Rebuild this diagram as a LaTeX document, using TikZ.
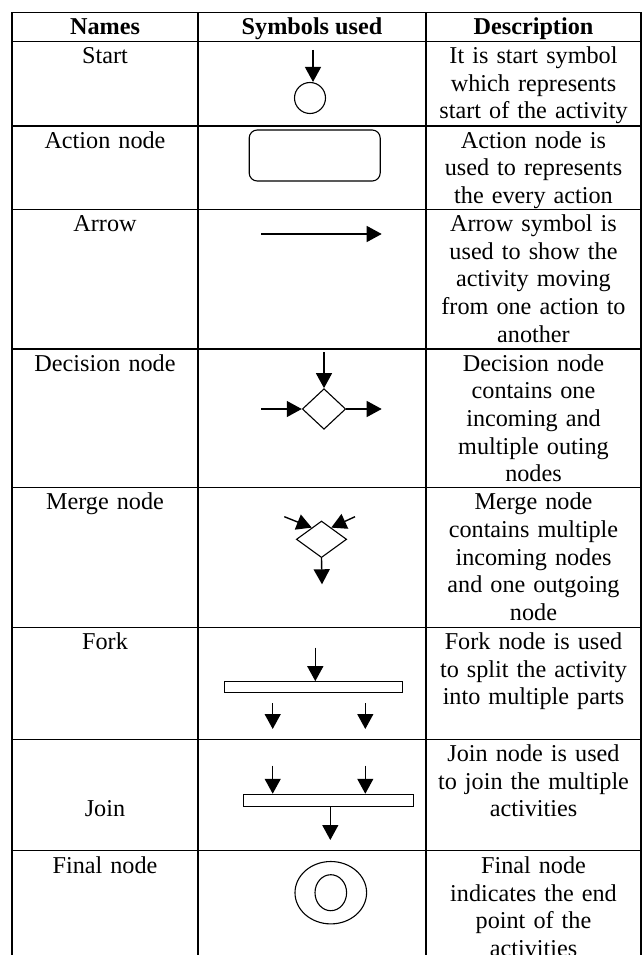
\documentclass[tikz,border=0pt]{standalone}
\usepackage{fontspec}
\setmainfont{Liberation Serif}
\usetikzlibrary{arrows.meta,shapes.geometric,calc}

\begin{document}
\begin{tikzpicture}[x=1pt,y=-1pt,
  gridline/.style={line width=1.3pt},
  flow/.style={line width=1.4pt,-{Triangle[length=15pt,width=16pt]}},
  outline/.style={draw,line width=1.1pt,inner sep=0pt},
  cell/.style={inner sep=0pt,anchor=base,align=center,
    font=\fontsize{24.2}{27.7}\selectfont},
  namecell/.style={cell,text width=180pt},
  desccell/.style={cell,text width=210pt},
  headcell/.style={cell,font=\fontsize{24.2}{27.7}\selectfont\bfseries}
]
\useasboundingbox (0,0) rectangle (643,955);

% ---- table rules ----
\draw[gridline] (12,955) -- (12,12.7) -- (641,12.7) -- (641,955);
\foreach \xx in {198,426} \draw[gridline] (\xx,12.7) -- (\xx,955);
\foreach \yy in {41.7,126,209.3,349,487.7,627.5,739.5,850.7}
  \draw[gridline] (12,\yy) -- (641,\yy);

% ---- header ----
\node[headcell] (hName) at (105,35) {Names};
\node[headcell] (hSym)  at (312,35) {Symbols used};
\node[headcell] (hDesc) at (533.5,35) {Description};

% ---- names column ----
\node[namecell] (nStart)  at (105,63.5)  {Start};
\node[namecell] (nAction) at (105,148)   {Action node};
\node[namecell] (nArrow)  at (105,231.3) {Arrow};
\node[namecell] (nDec)    at (105,371)   {Decision node};
\node[namecell] (nMerge)  at (105,509.7) {Merge node};
\node[namecell] (nFork)   at (105,649.5) {Fork};
\node[namecell] (nJoin)   at (105,816.8) {Join};
\node[namecell] (nFinal)  at (105,873.3) {Final node};

% ---- description column ----
\node[desccell] (dStart)  at (533.5,63.5)  {It is start symbol\\which represents\\start of the activity};
\node[desccell] (dAction) at (533.5,148)   {Action node is\\used to represents\\the every action};
\node[desccell] (dArrow)  at (533.5,231.3) {Arrow symbol is\\used to show the\\activity moving\\from one action to\\another};
\node[desccell] (dDec)    at (533.5,371)   {Decision node\\contains one\\incoming and\\multiple outing\\nodes};
\node[desccell] (dMerge)  at (533.5,509.7) {Merge node\\contains multiple\\incoming nodes\\and one outgoing\\node};
\node[desccell] (dFork)   at (533.5,649.5) {Fork node is used\\to split the activity\\into multiple parts};
\node[desccell] (dJoin)   at (533.5,761.5) {Join node is used\\to join the multiple\\activities};
\node[desccell] (dFinal)  at (533.5,873.3) {Final node\\indicates the end\\point of the\\activities};

% ---- start symbol ----
\node[outline,circle,minimum size=31pt] (startC) at (310,98) {};
\coordinate (startIn) at (313,50);
\draw[flow] (startIn) -- (startIn |- startC.north);

% ---- action node symbol ----
\node[outline,rounded corners=8pt,minimum width=131pt,minimum height=51pt] (actBox) at (314.7,155.5) {};

% ---- arrow symbol ----
\coordinate (arrFrom) at (261,234);
\coordinate (arrTo) at (381.7,234);
\draw[flow] (arrFrom) -- (arrTo);

% ---- decision node symbol ----
\node[outline,diamond,minimum width=43.4pt,minimum height=40.6pt] (decD) at (324,409) {};
\coordinate (decTop) at (324,352.3);
\coordinate (decLeft) at (261,409);
\coordinate (decRight) at (381.7,409);
\draw[flow] (decTop) -- (decD.north);
\draw[flow] (decLeft) -- (decD.west);
\draw[flow] (decD.east) -- (decRight);

% ---- merge node symbol ----
\node[outline,diamond,minimum width=50.3pt,minimum height=36.6pt] (mrgD) at (321.5,539.3) {};
\coordinate (mrgInL) at (284.3,516.7);
\coordinate (mrgInR) at (355,516.7);
\coordinate (mrgOut) at (322,584.3);
\draw[flow] (mrgInL) -- ($(mrgD.north)!0.38!(mrgD.west)$);
\draw[flow] (mrgInR) -- ($(mrgD.north)!0.38!(mrgD.east)$);
\draw[flow] (mrgD.south) -- (mrgOut);

% ---- fork symbol ----
\node[outline,rectangle,minimum width=178pt,minimum height=11pt] (forkBar) at (313.3,687.2) {};
\coordinate (forkIn) at (315.3,647.7);
\draw[flow] (forkIn) -- (forkIn |- forkBar.north);
\coordinate (forkOutLa) at (272.7,703.3);
\coordinate (forkOutLb) at (272.7,729);
\coordinate (forkOutRa) at (365.3,703.3);
\coordinate (forkOutRb) at (365.3,729);
\draw[flow] (forkOutLa) -- (forkOutLb);
\draw[flow] (forkOutRa) -- (forkOutRb);

% ---- join symbol ----
\node[outline,rectangle,minimum width=169.6pt,minimum height=12.4pt] (joinBar) at (328.5,800.5) {};
\coordinate (joinInL) at (272.7,765.7);
\coordinate (joinInR) at (365.3,765.7);
\coordinate (joinOut) at (330.3,840);
\draw[flow] (joinInL) -- (joinInL |- joinBar.north);
\draw[flow] (joinInR) -- (joinInR |- joinBar.north);
\draw[flow] (joinOut |- joinBar.south) -- (joinOut);

% ---- final node symbol ----
\node[outline,ellipse,minimum width=71.6pt,minimum height=62.4pt] (finOuter) at (330.8,892.7) {};
\node[outline,ellipse,minimum width=31.6pt,minimum height=36pt] (finInner) at (finOuter.center) {};
\end{tikzpicture}
\end{document}
